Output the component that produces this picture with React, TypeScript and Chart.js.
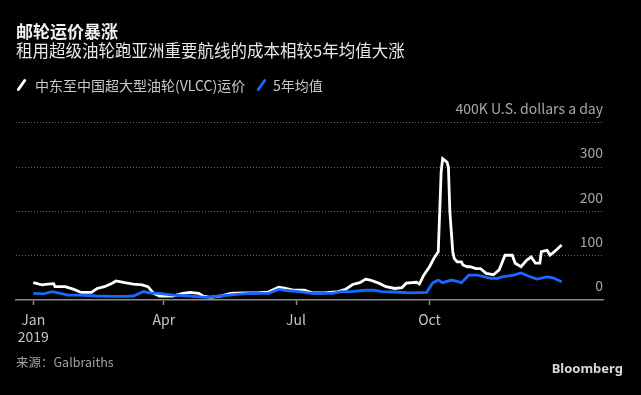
import React, { useEffect, useRef } from "react";
import { Chart, registerables } from "chart.js";

Chart.register(...registerables);

// Day of year 2019 (0 = Jan 1) and rates in thousand USD/day
const vlccDays = [0, 6, 10, 14, 15, 22, 28, 33, 40, 44, 49, 54, 57, 63, 69, 75, 79, 83, 87, 96, 103, 108, 114, 117, 122, 129, 136, 145, 154, 162, 169, 173, 180, 187, 192, 201, 210, 215, 220, 225, 229, 232, 238, 243, 249, 254, 257, 264, 266, 269, 273, 276, 279, 280, 281, 282, 285, 286, 287, 289, 290, 292, 295, 296, 299, 301, 305, 308, 312, 317, 321, 325, 330, 332, 336, 340, 343, 346, 349, 350, 354, 356, 359, 364];
const vlccRates = [39, 34, 36, 37, 30, 30, 24, 17, 17, 26, 30, 37, 43, 39, 36, 34, 30, 15, 9, 9, 15, 17, 15, 9, 6, 9, 15, 16, 16, 18, 29, 27, 22, 22, 16, 16, 19, 24, 35, 39, 47, 45, 38, 30, 26, 28, 38, 40, 36, 56, 75, 94, 109, 199, 289, 319, 311, 300, 199, 109, 94, 86, 86, 79, 75, 75, 71, 71, 60, 57, 68, 101, 101, 83, 75, 90, 97, 83, 83, 109, 112, 101, 109, 124];

const avgDays = [0, 7, 13, 17, 24, 33, 43, 54, 63, 69, 76, 80, 87, 96, 108, 119, 129, 138, 149, 162, 169, 173, 183, 192, 206, 212, 219, 229, 235, 240, 249, 260, 271, 275, 279, 282, 288, 292, 295, 300, 306, 310, 315, 320, 323, 331, 336, 341, 347, 354, 358, 364];
const avgRates = [15, 14, 19, 16, 11, 11, 9, 8, 8, 9, 19, 16, 15, 11, 9, 6, 9, 12, 15, 15, 24, 22, 19, 15, 15, 19, 19, 22, 22, 19, 18, 16, 17, 38, 45, 39, 45, 42, 39, 56, 56, 53, 49, 49, 52, 56, 61, 54, 47, 52, 50, 41];

const xTickDays = [0, 90, 181, 273];
const xTickLabels: (string | string[])[] = [["Jan", "2019"], "Apr", "Jul", "Oct"];
const yTickValues = [0, 100, 200, 300, 400];
const yTopLabel = "400K U.S. dollars a day";

const titleText = "邮轮运价暴涨";
const subtitleText = "租用超级油轮跑亚洲重要航线的成本相较5年均值大涨";
const legendLabels = ["中东至中国超大型油轮(VLCC)运价", "5年均值"];
const sourceText = "来源：Galbraiths";
const brandText = "Bloomberg";

const WHITE = "#ffffff";
const BLUE = "#1569ff";
const FONT = '"Noto Sans CJK SC", "Noto Sans", sans-serif';

export default function App() {
  const ref = useRef<HTMLCanvasElement>(null);

  useEffect(() => {
    const chart = new Chart(ref.current as HTMLCanvasElement, {
      type: "line",
      data: {
        datasets: [
          {
            label: legendLabels[1],
            data: avgDays.map((d, i) => ({ x: d, y: avgRates[i] })),
            borderColor: BLUE,
            borderWidth: 2.8,
            pointRadius: 0,
            tension: 0,
          },
          {
            label: legendLabels[0],
            data: vlccDays.map((d, i) => ({ x: d, y: vlccRates[i] })),
            borderColor: WHITE,
            borderWidth: 2.8,
            pointRadius: 0,
            tension: 0,
          },
        ],
      },
      options: {
        responsive: false,
        animation: false,
        events: [],
        layout: { padding: { left: 16, right: 38, top: 122.7, bottom: 0 } },
        plugins: { legend: { display: false }, tooltip: { enabled: false } },
        scales: {
          x: {
            type: "linear",
            min: -11.9,
            max: 392.5,
            afterBuildTicks: (s: any) => {
              s.ticks = xTickDays.map((v) => ({ value: v }));
            },
            afterFit: (s: any) => {
              s.height = 95;
            },
            grid: {
              drawOnChartArea: false,
              drawTicks: true,
              tickLength: 5,
              tickColor: "#8a8a8a",
              tickWidth: 1.5,
              color: "#8a8a8a",
            },
            border: { display: true, color: "#8a8a8a", width: 1.5 },
            ticks: {
              autoSkip: false,
              maxRotation: 0,
              padding: 6,
              color: "#c4c4c4",
              font: { family: FONT, size: 14, lineHeight: 1.2 },
              callback: (v: any) => {
                const i = xTickDays.indexOf(Number(v));
                return i >= 0 ? xTickLabels[i] : "";
              },
            },
          },
          y: {
            position: "right",
            min: 0,
            max: 400,
            afterBuildTicks: (s: any) => {
              s.ticks = yTickValues.map((v) => ({ value: v }));
            },
            afterFit: (s: any) => {
              s.width = 0;
            },
            grid: {
              drawTicks: false,
              lineWidth: 1,
              color: (c: any) =>
                c.tick && c.tick.value === 0 ? "rgba(0,0,0,0)" : "#646464",
            },
            border: { display: false, dash: [1, 2] },
            ticks: {
              mirror: true,
              padding: 0,
              labelOffset: -14,
              color: "#a8a8a8",
              font: { family: FONT, size: 14 },
              callback: (v: any) =>
                Number(v) === 400 ? yTopLabel : String(v),
            },
          },
        },
      },
    } as any);
    return () => chart.destroy();
  }, []);

  const slash = (color: string, left: number) => (
    <div
      style={{
        position: "absolute",
        left,
        top: 78,
        width: 3,
        height: 14,
        background: color,
        borderRadius: 1.5,
        transform: "rotate(35deg)",
        transformOrigin: "center",
      }}
    />
  );

  return (
    <div
      style={{
        position: "fixed",
        left: 0,
        top: 0,
        width: 641,
        height: 395,
        background: "#000",
        overflow: "hidden",
        fontFamily: FONT,
      }}
    >
      <canvas
        ref={ref}
        width={641}
        height={395}
        style={{ position: "absolute", left: 0, top: 0, width: 641, height: 395 }}
      />
      <div
        style={{
          position: "absolute",
          left: 16,
          top: 22,
          fontSize: 17,
          lineHeight: "17px",
          fontWeight: 700,
          color: "#f2f2f2",
          whiteSpace: "nowrap",
        }}
      >
        {titleText}
      </div>
      <div
        style={{
          position: "absolute",
          left: 16,
          top: 42,
          fontSize: 16.5,
          lineHeight: "16.5px",
          color: "#e8e8e8",
          whiteSpace: "nowrap",
        }}
      >
        {subtitleText}
      </div>
      {slash(WHITE, 19.5)}
      <div
        style={{
          position: "absolute",
          left: 35,
          top: 78,
          fontSize: 14,
          lineHeight: "14px",
          color: "#c8c8c8",
          whiteSpace: "nowrap",
        }}
      >
        {legendLabels[0]}
      </div>
      {slash(BLUE, 259.5)}
      <div
        style={{
          position: "absolute",
          left: 273,
          top: 78,
          fontSize: 14,
          lineHeight: "14px",
          color: "#c8c8c8",
          whiteSpace: "nowrap",
        }}
      >
        {legendLabels[1]}
      </div>
      <div
        style={{
          position: "absolute",
          left: 16,
          top: 356,
          fontSize: 12.5,
          lineHeight: "12.5px",
          color: "#a0a0a0",
          whiteSpace: "nowrap",
        }}
      >
        {sourceText}
      </div>
      <div
        style={{
          position: "absolute",
          right: 641 - 623,
          top: 362,
          fontSize: 13,
          lineHeight: "13px",
          fontWeight: 700,
          fontFamily: '"Noto Sans", sans-serif',
          color: "#d8d8d8",
          whiteSpace: "nowrap",
        }}
      >
        {brandText}
      </div>
    </div>
  );
}
